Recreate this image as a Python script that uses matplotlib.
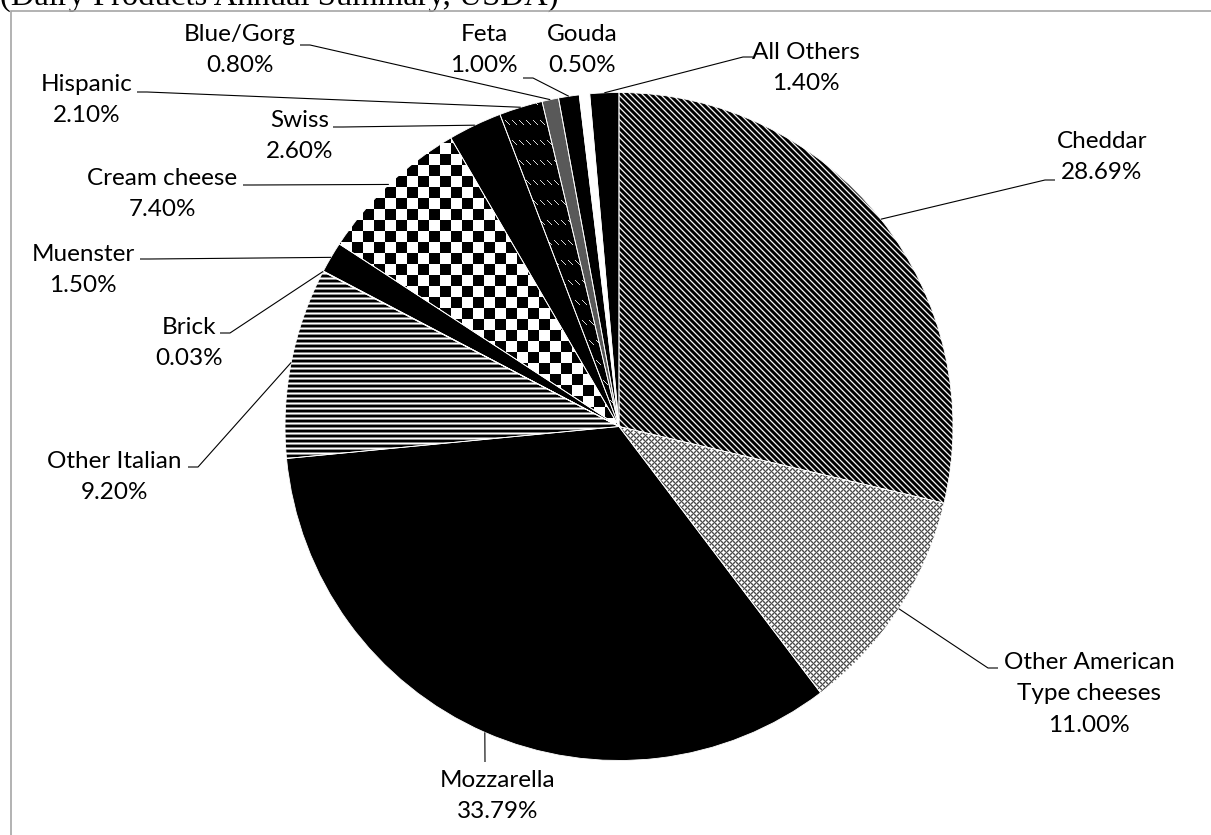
import numpy as np
import matplotlib.pyplot as plt
from matplotlib.patches import Wedge, Rectangle

W, H = 1211, 835

# U.S. cheese production by type (share of total)
cheeses = ["Cheddar", "Other American\nType cheeses", "Mozzarella", "Other Italian",
           "Brick", "Muenster", "Cream cheese", "Swiss", "Hispanic", "Blue/Gorg",
           "Feta", "Gouda", "All Others"]
shares = [28.69, 11.00, 33.79, 9.20, 0.03, 1.50, 7.40, 2.60, 2.10, 0.80, 1.00, 0.50, 1.40]

# label centres and leader-line anchors, in pixels from the top-left corner
label_pos = [(1102, 157), (1089, 694), (498, 796), (114, 477), (189, 343), (83, 270),
             (162, 194), (300, 136), (87, 100), (240, 50), (484, 50), (582, 50), (806, 68)]
anchors = [(1055, 180), (998, 668), (485, 762), (188, 467), (220, 333), (140, 259),
           (243, 185), (333, 127), (137, 92), (300, 45), (523, 78), None, (753, 57)]


def tile_stripes_diag():
    r, c = np.indices((6, 6))
    vals = np.array([0.0, 0.0, 0.0, 0.4, 0.95, 0.4])
    return vals[(r - c) % 6]


def tile_grid():
    r, c = np.indices((6, 6))
    d1 = np.minimum((r + c) % 6, 6 - (r + c) % 6)
    d2 = np.minimum((r - c) % 6, 6 - (r - c) % 6)
    d = np.minimum(d1, d2)
    return np.where(d == 0, 0.3, np.where(d == 1, 0.65, 1.0))


def tile_hlines():
    vals = np.array([0.0, 0.0, 0.5, 1.0, 0.55])
    return np.repeat(vals[:, None], 5, axis=1)


def tile_checker():
    r, c = np.indices((22, 22))
    return (((r // 11) + (c // 11)) % 2).astype(float)


def tile_dashes():
    t = np.zeros((20, 7))
    for k in range(5):
        t[k, k + 1] = 0.85
    return t


patterns = {0: tile_stripes_diag(), 1: tile_grid(), 3: tile_hlines(),
            6: tile_checker(), 8: tile_dashes()}
solid = {2: "black", 4: "black", 5: "black", 7: "black", 9: "#595959",
         10: "black", 11: "white", 12: "black"}

fig = plt.figure(figsize=(W / 100, H / 100), dpi=100)
ax = fig.add_axes([0, 0, 1, 1])

cx, cy, rad = 619, H - 426.5, 334
wedges, _ = ax.pie(shares, startangle=90, counterclock=False, center=(cx, cy),
                   radius=rad, wedgeprops=dict(linewidth=0))

for i, w in enumerate(wedges):
    if i in solid:
        w.set_facecolor(solid[i])
        continue
    w.set_facecolor("white")
    tile = patterns[i]
    ext = w.get_path().get_extents()
    x0, x1 = int(np.floor(ext.x0)), int(np.ceil(ext.x1))
    y0, y1 = int(np.floor(ext.y0)), int(np.ceil(ext.y1))
    rows = np.arange(H - y1, H - y0)
    cols = np.arange(x0, x1)
    th, tw = tile.shape
    img = tile[np.ix_(rows % th, cols % tw)]
    im = ax.imshow(img, cmap="gray", vmin=0, vmax=1, extent=(x0, x1, y0, y1),
                   interpolation="nearest", zorder=w.get_zorder() + 0.1)
    im.set_clip_path(w)

# thin white separators between slices
for w in wedges:
    ax.add_patch(Wedge(w.center, w.r, w.theta1, w.theta2, fill=False,
                       edgecolor="white", linewidth=0.6, zorder=3))

# data labels with leader lines
for i, w in enumerate(wedges):
    lx, ly = label_pos[i]
    ax.text(lx, H - ly, f"{cheeses[i]}\n{shares[i]:.2f}%", ha="center", va="center",
            multialignment="center", fontsize=17.5, family="Lato", linespacing=1.6,
            color="black", zorder=5)
    if anchors[i] is None:
        continue
    mid = np.deg2rad((w.theta1 + w.theta2) / 2)
    ex, ey = cx + rad * np.cos(mid), cy + rad * np.sin(mid)
    axp, ayp = anchors[i][0], H - anchors[i][1]
    if abs(ex - axp) < 5:
        xs, ys = [axp, ex], [ayp, ey]
    else:
        step = 10 if ex > axp else -10
        xs, ys = [axp, axp + step, ex], [ayp, ayp, ey]
    ax.plot(xs, ys, color="black", linewidth=0.8, solid_capstyle="butt", zorder=4)

# chart frame (continues past the right and bottom edges)
ax.add_patch(Rectangle((11, -20), W + 20, H - 11 + 20, fill=False,
                       edgecolor="#a6a6a6", linewidth=1.2, zorder=6))

ax.text(0, H - 5, "(Dairy Products Annual Summary, USDA)", ha="left", va="baseline",
        fontsize=23.5, family="Liberation Serif", color="black")

ax.set_xlim(0, W)
ax.set_ylim(0, H)
ax.set_aspect("equal")
ax.axis("off")

fig.savefig("out.png", dpi=100)
